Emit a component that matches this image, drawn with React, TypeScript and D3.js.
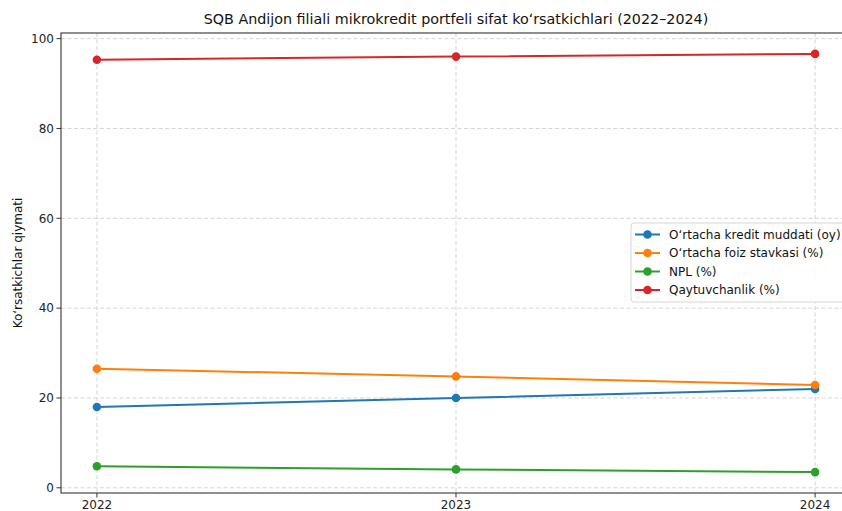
import React from "react";
import * as d3 from "d3";

const years = [2022, 2023, 2024];
const seriesNames = [
  "Oʻrtacha kredit muddati (oy)",
  "Oʻrtacha foiz stavkasi (%)",
  "NPL (%)",
  "Qaytuvchanlik (%)",
];
const creditTerm = [18.0, 20.0, 22.0];
const interestRate = [26.5, 24.8, 22.9];
const npl = [4.8, 4.1, 3.5];
const repayment = [95.3, 96.0, 96.6];
const colors = ["#1f77b4", "#ff7f0e", "#2ca02c", "#d62728"];
const yTicks = [0, 20, 40, 60, 80, 100];
const title = "SQB Andijon filiali mikrokredit portfeli sifat koʻrsatkichlari (2022–2024)";
const yLabel = "Koʻrsatkichlar qiymati";

const W = 842;
const H = 511;
const L = 61;
const R = 851;
const T = 33;
const B = 493;

export default function App() {
  const all = [creditTerm, interestRate, npl, repayment];
  const yMinD = d3.min(all.flat())!;
  const yMaxD = d3.max(all.flat())!;
  const ym = (yMaxD - yMinD) * 0.05;
  const x = d3.scaleLinear().domain([2022 - 0.1, 2024 + 0.1]).range([L, R]);
  const y = d3.scaleLinear().domain([yMinD - ym, yMaxD + ym]).range([B, T]);
  const line = d3
    .line<number>()
    .x((_, i) => x(years[i]))
    .y((d) => y(d));
  const font = "DejaVu Sans, sans-serif";
  const legX = 631;
  const legY = 223;
  return (
    <svg
      width={W}
      height={H}
      style={{ position: "absolute", left: 0, top: 0, background: "#fff" }}
      fontFamily={font}
    >
      <rect x={0} y={0} width={W} height={H} fill="#fff" />
      {/* grid */}
      {yTicks.map((t) => (
        <line key={"gy" + t} x1={L} x2={R} y1={y(t)} y2={y(t)} stroke="#d0d0d0" strokeWidth={0.9} strokeDasharray="4,2.5" />
      ))}
      {years.map((t) => (
        <line key={"gx" + t} x1={x(t)} x2={x(t)} y1={T} y2={B} stroke="#d0d0d0" strokeWidth={0.9} strokeDasharray="4,2.5" />
      ))}
      {/* series */}
      {all.map((s, i) => (
        <g key={"s" + i}>
          <path d={line(s)!} fill="none" stroke={colors[i]} strokeWidth={2} />
          {s.map((v, j) => (
            <circle key={j} cx={x(years[j])} cy={y(v)} r={4.3} fill={colors[i]} />
          ))}
        </g>
      ))}
      {/* spines */}
      <rect x={L} y={T} width={R - L} height={B - T} fill="none" stroke="#333" strokeWidth={1.1} />
      {/* y ticks */}
      {yTicks.map((t) => (
        <g key={"yt" + t}>
          <line x1={L - 4.5} x2={L} y1={y(t)} y2={y(t)} stroke="#333" strokeWidth={1} />
          <text x={L - 7} y={y(t)} dy="0.35em" textAnchor="end" fontSize={12} fill="#222">
            {t}
          </text>
        </g>
      ))}
      {/* x ticks */}
      {years.map((t) => (
        <g key={"xt" + t}>
          <line x1={x(t)} x2={x(t)} y1={B} y2={B + 4.5} stroke="#333" strokeWidth={1} />
          <text x={x(t)} y={B + 15.5} textAnchor="middle" fontSize={12} fill="#222">
            {t}
          </text>
        </g>
      ))}
      <text x={(L + R) / 2} y={24} textAnchor="middle" fontSize={14.3} fill="#111">
        {title}
      </text>
      <text
        transform={`translate(22,${(T + B) / 2}) rotate(-90)`}
        textAnchor="middle"
        fontSize={12}
        fill="#111"
      >
        {yLabel}
      </text>
      {/* legend */}
      <rect x={legX} y={legY} width={215} height={79} rx={3} fill="#fff" fillOpacity={0.85} stroke="#d6d6d6" strokeWidth={1} />
      {seriesNames.map((n, i) => {
        const cy = legY + 11.5 + i * 18.5;
        return (
          <g key={"l" + i}>
            <line x1={legX + 4} x2={legX + 29} y1={cy} y2={cy} stroke={colors[i]} strokeWidth={2} />
            <circle cx={legX + 16.5} cy={cy} r={4.3} fill={colors[i]} />
            <text x={legX + 38} y={cy} dy="0.35em" fontSize={12} fill="#111">
              {n}
            </text>
          </g>
        );
      })}
    </svg>
  );
}
